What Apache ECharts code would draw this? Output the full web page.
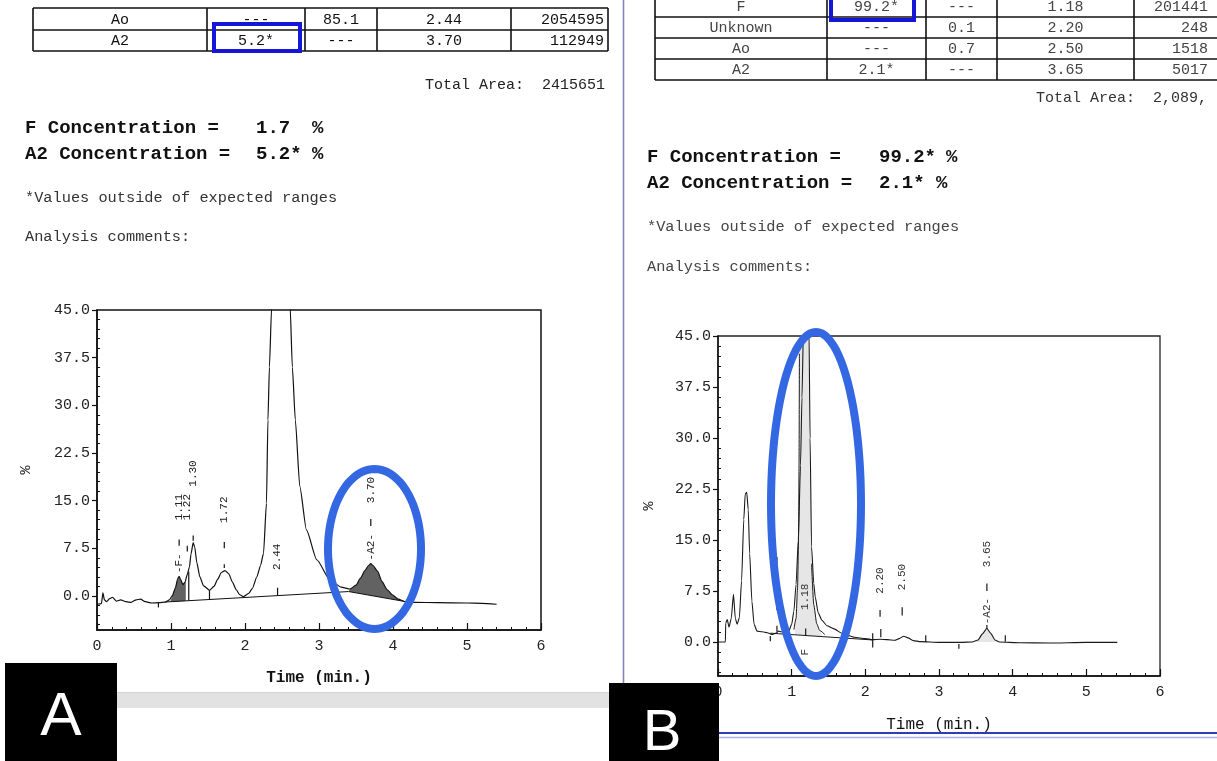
<!DOCTYPE html>
<html><head><meta charset="utf-8">
<script src="https://cdn.jsdelivr.net/npm/echarts@6/dist/echarts.min.js"></script>
<style>html,body{margin:0;padding:0;background:#fff;}#c{width:1217px;height:761px;}</style>
</head><body><div id="c"></div>
<script>
// ---------------- DATA ----------------
const timeTicks = [0, 1, 2, 3, 4, 5, 6];
const pctMajor = [0, 7.5, 15, 22.5, 30, 37.5, 45];
const pctMinor = [-4.5,-3,-1.5,1.5,3,4.5,6,9,10.5,12,13.5,16.5,18,19.5,21,24,25.5,27,28.5,31.5,33,34.5,36,39,40.5,42,43.5];

// Panel A chromatogram (time min, %)
const traceA = [[0,-1.3],[0.06,-1.2],[0.08,0.5],[0.1,-0.6],[0.13,-0.9],[0.17,-0.4],[0.21,-0.2],[0.26,-0.8],[0.32,-0.6],[0.39,-0.9],[0.46,-1.0],[0.53,-0.6],[0.59,-0.5],[0.65,-0.9],[0.74,-1.1],[0.84,-1.05],[0.92,-0.95],[0.98,-0.6],[1.02,0.1],[1.06,1.3],[1.09,2.7],[1.11,3.1],[1.13,2.6],[1.16,1.8],[1.19,2.2],[1.22,3.4],[1.25,4.6],[1.27,6.6],[1.3,8.4],[1.32,7.7],[1.35,5.2],[1.39,3.0],[1.44,1.6],[1.52,0.9],[1.58,1.5],[1.63,2.6],[1.68,3.7],[1.73,4.0],[1.78,3.5],[1.83,2.2],[1.88,1.0],[1.93,0.2],[1.98,-0.1],[2.05,0.4],[2.1,1.2],[2.16,3.0],[2.21,4.8],[2.25,6.7],[2.29,14.6],[2.31,27.7],[2.33,36],[2.36,45.5],[2.42,70],[2.48,80],[2.55,70],[2.61,45.5],[2.64,36],[2.68,27.7],[2.74,17.3],[2.83,10.4],[2.97,5.7],[3.15,2.5],[3.3,1.4],[3.42,1.1],[3.5,1.7],[3.56,2.8],[3.62,4.0],[3.67,4.8],[3.7,5.1],[3.73,4.8],[3.79,3.9],[3.85,2.3],[3.92,1.0],[3.99,0.2],[4.07,-0.5],[4.17,-0.9],[4.3,-1.0],[4.6,-1.05],[5.0,-1.1],[5.2,-1.15],[5.4,-1.3]];
const baselineA = [[0.92,-0.95],[3.4,0.7],[4.2,-0.95]];
const areaA_F = [[0.99,-0.9],[1.02,0.1],[1.06,1.3],[1.09,2.7],[1.11,3.1],[1.13,2.6],[1.16,1.8],[1.19,2.2],[1.2,2.5],[1.2,-0.77]];
const areaA_A2 = [[3.4,0.7],[3.42,1.1],[3.5,1.7],[3.56,2.8],[3.62,4.0],[3.67,4.8],[3.7,5.1],[3.73,4.8],[3.79,3.9],[3.85,2.3],[3.92,1.0],[3.99,0.2],[4.07,-0.5],[4.17,-0.9],[4.2,-0.95]];
const ticksA = [[1.24,-0.74,3.8],[1.52,-0.55,0.9],[2.44,0.08,1.3],[0.83,-1.0,-1.8],[1.11,7.9,8.9],[1.22,7.0,7.9],[1.30,8.7,9.5],[1.72,7.5,8.5],[1.72,4.4,5.0],[3.70,11.0,12.1]];
const peakTimesA = [1.11, 1.11, 1.22, 1.30, 1.72, 2.44, 3.70, 3.70];
const peakTextA = ['-F-', '1.11', '1.22', '1.30', '1.72', '2.44', '3.70', '-A2-'];

// Panel B chromatogram
const traceB = [[0,0],[0.1,0],[0.105,2.8],[0.125,3.3],[0.15,2.2],[0.18,3.5],[0.21,7.0],[0.235,3.5],[0.26,2.6],[0.29,3.6],[0.32,9],[0.35,18],[0.37,21.8],[0.39,22],[0.41,19.5],[0.43,13],[0.46,6],[0.49,2.6],[0.53,1.6],[0.6,1.5],[0.67,1.35],[0.74,1.1],[0.79,1.3],[0.82,1.6],[0.86,1.5],[0.92,1.3],[0.96,1.6],[1.0,2.6],[1.03,4.5],[1.06,8.5],[1.09,15],[1.12,26],[1.14,36],[1.16,46],[1.2,60],[1.235,46],[1.25,30],[1.27,14],[1.3,8.6],[1.32,6.6],[1.36,4.3],[1.41,3.2],[1.48,2.4],[1.56,2.0],[1.7,1.2],[1.85,0.7],[2.0,0.5],[2.1,0.35],[2.2,0.4],[2.3,0.35],[2.4,0.25],[2.46,0.5],[2.52,0.85],[2.58,0.6],[2.65,0.2],[2.75,0.05],[3.0,-0.05],[3.3,-0.05],[3.45,0.0],[3.53,0.3],[3.59,1.2],[3.65,2.0],[3.7,1.3],[3.76,0.3],[3.82,0],[4.1,-0.1],[4.5,-0.15],[5.0,-0.05],[5.42,-0.05]];
const fitB_left = [[1.03,1.8],[1.06,3.5],[1.08,8],[1.095,16],[1.1,26],[1.105,42.4]];
const fitB_right = [[1.27,11.5],[1.3,5.5],[1.34,2.7],[1.38,1.7],[1.45,1.1]];
const baselineB = [[0.71,1.3],[2.1,0.3]];
const areaB_F = [[1.04,1.1],[1.06,3.5],[1.08,8],[1.095,16],[1.1,26],[1.105,42.4],[1.16,46],[1.2,50],[1.235,46],[1.25,30],[1.27,12],[1.3,5.5],[1.34,2.7],[1.38,1.7],[1.42,0.8]];
const areaB_A2 = [[3.5,0],[3.53,0.3],[3.59,1.2],[3.65,2.0],[3.7,1.3],[3.76,0.3],[3.8,0]];
const ticksB = [[0.71,0.1,0.9],[0.8,1.5,2.4],[1.19,1.0,2.0],[2.1,-0.8,1.3],[2.21,0.7,1.9],[2.82,0,1.0],[3.27,-1.0,-0.3],[3.9,0.05,1.0],[0.8,11.5,12.5],[0.8,4.7,5.4],[2.2,3.7,4.7],[2.5,3.9,5.1],[3.65,7.5,8.6],[3.65,2.0,2.5]];
const peakTimesB = [1.18, 1.18, 2.20, 2.50, 3.65, 3.65];
const peakTextB = ['1.18', 'F', '2.20', '2.50', '3.65', '-A2-'];

// Report text
const tableA = [['Ao','---','85.1','2.44','2054595'],['A2','5.2*','---','3.70','112949']];
const tableB = [['F','99.2*','---','1.18','201441'],['Unknown','---','0.1','2.20','248'],['Ao','---','0.7','2.50','1518'],['A2','2.1*','---','3.65','5017']];
const totalA = 'Total Area:  2415651';
const totalB = 'Total Area:  2,089,';
const concA = [['F Concentration =','1.7','%'],['A2 Concentration =','5.2*','%']];
const concB = [['F Concentration =','99.2*','%'],['A2 Concentration =','2.1*','%']];
const noteText = '*Values outside of expected ranges';
const commentText = 'Analysis comments:';
const axisXName = 'Time (min.)';
const axisYName = '%';
const panelLetters = ['A', 'B'];

// ---------------- LAYOUT ----------------
const MONO = '"Liberation Mono", "DejaVu Sans Mono", monospace';
const labelYA = [3.6, 11.9, 11.9, 17.2, 11.5, 4.1, 14.6, 5.6];
const labelYB = [4.7, -2.0, 7.1, 7.6, 11.0, 2.6];

const chart = echarts.init(document.getElementById('c'), null, {renderer: 'canvas'});

function xAxisCfg(gi, bold, gap) {
  return {
    gridIndex: gi, type: 'value', min: 0, max: 6, interval: 1,
    axisLine: {show: true, onZero: false, lineStyle: {color: '#111', width: 1.5}},
    axisTick: {show: true, inside: true, length: 7, lineStyle: {color: '#111', width: 1.2}},
    minorTick: {show: true, splitNumber: 5, length: 3, lineStyle: {color: '#111', width: 1}},
    axisLabel: {fontFamily: MONO, fontSize: 15, color: '#222', margin: 9},
    splitLine: {show: false}, minorSplitLine: {show: false},
    name: axisXName, nameLocation: 'middle', nameGap: gap,
    nameTextStyle: {fontFamily: MONO, fontSize: 16, fontWeight: bold ? 'bold' : 'normal', color: '#111'}
  };
}
function yMajorCfg(gi, min, gap) {
  return {
    gridIndex: gi, type: 'value', min: min, max: 45, position: 'left',
    axisLine: {show: true, onZero: false, lineStyle: {color: '#111', width: 1.5}},
    axisTick: {show: true, customValues: pctMajor, inside: false, length: 5, lineStyle: {color: '#111', width: 1.2}},
    axisLabel: {customValues: pctMajor, formatter: v => Number(v).toFixed(1), fontFamily: MONO, fontSize: 15, color: '#222', margin: 7},
    splitLine: {show: false},
    name: axisYName, nameLocation: 'middle', nameGap: gap, nameRotate: 90,
    nameTextStyle: {fontFamily: MONO, fontSize: 15, color: '#111'}
  };
}
function yMinorCfg(gi, min) {
  return {
    gridIndex: gi, type: 'value', min: min, max: 45, position: 'left', offset: 0,
    axisLine: {show: false, onZero: false},
    axisTick: {show: true, customValues: pctMinor, inside: true, length: 3, lineStyle: {color: '#111', width: 1}},
    axisLabel: {show: false}, splitLine: {show: false}
  };
}
function lineS(xi, yi, data, color, width) {
  return {type: 'line', xAxisIndex: xi, yAxisIndex: yi, data: data, symbol: 'none', showSymbol: false,
    smooth: 0.2, smoothMonotone: 'x', clip: true, silent: true, z: 5,
    lineStyle: {color: color, width: width}};
}
function areaS(xi, yi, polys, fill) {
  return {type: 'custom', xAxisIndex: xi, yAxisIndex: yi, clip: true, silent: true, z: 3,
    data: polys.map((p, i) => [p[0][0], p[0][1], i]),
    renderItem: (params, api) => {
      const poly = polys[api.value(2)];
      return {type: 'polygon', shape: {points: poly.map(pt => api.coord(pt))}, style: {fill: fill, stroke: null}};
    }};
}
function tickS(xi, yi, segs, color) {
  return {type: 'custom', xAxisIndex: xi, yAxisIndex: yi, clip: true, silent: true, z: 6,
    data: segs,
    renderItem: (params, api) => {
      const a = api.coord([api.value(0), api.value(1)]);
      const b = api.coord([api.value(0), api.value(2)]);
      return {type: 'line', shape: {x1: a[0], y1: a[1], x2: b[0], y2: b[1]}, style: {stroke: color, lineWidth: 1.2}};
    }};
}
function labelS(xi, yi, times, texts, ys, color) {
  return {type: 'custom', xAxisIndex: xi, yAxisIndex: yi, clip: false, silent: true, z: 7,
    data: times.map((t, i) => [t, ys[i], i]),
    renderItem: (params, api) => {
      const p = api.coord([api.value(0), api.value(1)]);
      return {type: 'text', x: p[0], y: p[1], rotation: Math.PI / 2,
        style: {text: texts[api.value(2)], font: '11px ' + MONO, fill: color, align: 'left', verticalAlign: 'middle'}};
    }};
}

// ---------- graphics (report text, tables, marks) ----------
const G = [];
function txt(x, y, text, font, fill, align) {
  G.push({type: 'text', x: x, y: y, z: 10, silent: true,
    style: {text: text, font: font, fill: fill, align: align || 'left', verticalAlign: 'middle'}});
}
function ln(x1, y1, x2, y2, stroke, w, z) {
  G.push({type: 'line', z: z || 10, silent: true, shape: {x1: x1, y1: y1, x2: x2, y2: y2}, style: {stroke: stroke, lineWidth: w}});
}
function rect(x, y, w, h, style, z) {
  G.push({type: 'rect', z: z || 10, silent: true, shape: {x: x, y: y, width: w, height: h}, style: style});
}
function table(cols, rows, data, font, color, lastRight) {
  rows.forEach(r => ln(cols[0], r, cols[cols.length - 1], r, '#111', 1.6));
  cols.forEach(c => ln(c, rows[0], c, rows[rows.length - 1], '#111', 1.6));
  data.forEach((row, ri) => {
    const yc = (rows[ri] + rows[ri + 1]) / 2 + 1;
    row.forEach((cell, ci) => {
      if (ci === row.length - 1) txt(lastRight, yc, cell, font, color, 'right');
      else txt((cols[ci] + cols[ci + 1]) / 2, yc, cell, font, color, 'center');
    });
  });
}
function ellipse(cx, cy, rx, ry, stroke, w) {
  const pts = [];
  for (let i = 0; i < 96; i++) { const a = i / 96 * Math.PI * 2; pts.push([cx + rx * Math.cos(a), cy + ry * Math.sin(a)]); }
  G.push({type: 'polygon', z: 20, silent: true, shape: {points: pts}, style: {fill: 'none', stroke: stroke, lineWidth: w}});
}

// Panel A report
table([33, 207, 305, 377, 511, 608], [8, 30, 51], tableA, '15px ' + MONO, '#111', 604);
rect(214, 24, 86, 27, {fill: 'none', stroke: '#1616d6', lineWidth: 4}, 12);
txt(605, 85, totalA, '15px ' + MONO, '#222', 'right');
const boldF = 'bold 19px ' + MONO;
concA.forEach((c, i) => {
  const y = 128 + i * 26;
  txt(25, y, c[0], boldF, '#111'); txt(256, y, c[1], boldF, '#111'); txt(312, y, c[2], boldF, '#111');
});
txt(25, 198, noteText, '15.3px ' + MONO, '#333');
txt(25, 237, commentText, '15.3px ' + MONO, '#333');

// Panel B report
table([655, 827, 926, 997, 1134, 1240], [-4, 17, 38, 59, 80], tableB, '15px ' + MONO, '#444', 1208);
rect(831, -10, 83, 30, {fill: 'none', stroke: '#1616d6', lineWidth: 4}, 12);
txt(1036, 98, totalB, '15px ' + MONO, '#333');
concB.forEach((c, i) => {
  const y = 157 + i * 26;
  txt(647, y, c[0], boldF, '#111'); txt(879, y, c[1], boldF, '#111'); txt(c[1].length > 4 ? 946 : 936, y, c[2], boldF, '#111');
});
txt(647, 227, noteText, '15.3px ' + MONO, '#444');
txt(647, 267, commentText, '15.3px ' + MONO, '#444');

// dividers & bars
ln(623.5, 0, 623.5, 684, '#8484b8', 1.6, 9);
rect(117, 692, 493, 16, {fill: '#e2e2e2'}, 9);
ln(117, 692.5, 610, 692.5, '#d2d2d2', 1, 9);
ln(719, 733, 1217, 733, '#2a3cc0', 2.2, 9);
ln(719, 737.5, 1217, 737.5, '#a9b3e3', 1.5, 9);

// highlight ellipses
ellipse(374.5, 549, 46.5, 80, '#3468e2', 8);
ellipse(816, 504, 45, 172, '#3468e2', 8);

// panel letters
rect(5, 663, 112, 100, {fill: '#000'}, 30);
rect(609, 683, 110, 80, {fill: '#000'}, 30);
G.push({type: 'text', x: 61, y: 718, z: 31, silent: true, style: {text: panelLetters[0], font: '62px "Liberation Sans", Arial, sans-serif', fill: '#fff', align: 'center', verticalAlign: 'middle'}});
G.push({type: 'text', x: 662, y: 734, z: 31, silent: true, style: {text: panelLetters[1], font: '58px "Liberation Sans", Arial, sans-serif', fill: '#fff', align: 'center', verticalAlign: 'middle'}});

const option = {
  animation: false,
  backgroundColor: '#fff',
  grid: [
    {left: 97, top: 310, width: 444, height: 320, show: true, borderColor: '#111', borderWidth: 1.5, backgroundColor: 'transparent'},
    {left: 718, top: 336, width: 442, height: 340, show: true, borderColor: '#222', borderWidth: 1.3, backgroundColor: 'transparent'}
  ],
  xAxis: [xAxisCfg(0, true, 40), xAxisCfg(1, false, 41)],
  yAxis: [yMajorCfg(0, -5.35, 63), yMinorCfg(0, -5.35), yMajorCfg(1, -5.0, 61), yMinorCfg(1, -5.0)],
  series: [
    areaS(0, 0, [areaA_F, areaA_A2], 'rgba(70,70,70,0.85)'),
    lineS(0, 0, traceA, '#111', 1.2),
    {type: 'line', xAxisIndex: 0, yAxisIndex: 0, data: baselineA, symbol: 'none', silent: true, z: 4, lineStyle: {color: '#111', width: 1}},
    tickS(0, 0, ticksA, '#111'),
    labelS(0, 0, peakTimesA, peakTextA, labelYA, '#222'),
    areaS(1, 2, [areaB_F, areaB_A2], 'rgba(140,140,140,0.22)'),
    lineS(1, 2, traceB, '#1a1a1a', 1.1),
    lineS(1, 2, fitB_left, '#1a1a1a', 1),
    lineS(1, 2, fitB_right, '#1a1a1a', 1),
    {type: 'line', xAxisIndex: 1, yAxisIndex: 2, data: baselineB, symbol: 'none', silent: true, z: 4, lineStyle: {color: '#1a1a1a', width: 1}},
    tickS(1, 2, ticksB, '#1a1a1a'),
    labelS(1, 2, peakTimesB, peakTextB, labelYB, '#333')
  ],
  graphic: {elements: G}
};
chart.setOption(option);
</script>
</body></html>
